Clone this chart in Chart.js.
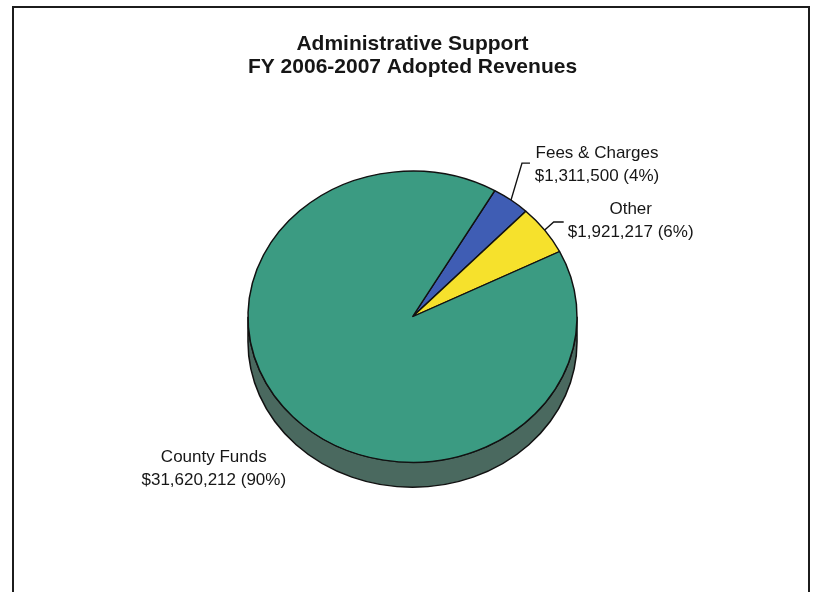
<!DOCTYPE html>
<html>
<head>
<meta charset="utf-8">
<title>Administrative Support - FY 2006-2007 Adopted Revenues</title>
<script src="https://cdn.jsdelivr.net/npm/chart.js@4.4.1/dist/chart.umd.min.js"></script>
<style>
  html, body { margin: 0; padding: 0; background: #fff; }
  #wrap { width: 814px; height: 592px; }
</style>
</head>
<body>
<div id="wrap"><canvas id="revenues" width="814" height="592"></canvas></div>
<script>
// Revenue sources, clockwise from the small wedges near 1 o'clock
const sources = ['Fees & Charges', 'Other', 'County Funds'];
const amounts = [1311500, 1921217, 31620212];
const pctShown = [4, 6, 90];   // percentages as printed in the budget book
const titleLines = ['Administrative Support', 'FY 2006-2007 Adopted Revenues'];

const faceColors = ['#3f5db4', '#f6e12c', '#3b9b82'];
const sideColors = ['#2c3f7a', '#a89a1e', '#4a695f'];

const FONT = '"Liberation Sans", Arial, Helvetica, sans-serif';
const TILT = 146.5 / 165.5;  // vertical squash of the disc
const DEPTH = 25;            // thickness of the disc, px

// label block offsets from each wedge's rim point (mid angle), plus leader elbows
const labelSpots = [
  { dx: 86, dy: -47, leader: [[11, -37], [19, -37]] },
  { dx: 86, dy: -21, leader: [[9, -8], [19, -8]] },
  { dx: -79, dy: 41, leader: null }
];

const money = n => '$' + n.toLocaleString('en-US');

const frame = {
  id: 'frame',
  beforeDraw(chart) {
    const ctx = chart.ctx;
    ctx.save();
    ctx.fillStyle = '#fff';
    ctx.fillRect(0, 0, chart.width, chart.height);
    ctx.strokeStyle = '#1c1c1c';
    ctx.lineWidth = 2;
    ctx.strokeRect(13, 7, 796, 600);
    ctx.restore();
  }
};

// draws the rim of the disc, squashes the face, then puts labels on top
const disc3d = {
  id: 'disc3d',
  beforeDatasetsDraw(chart) {
    const ctx = chart.ctx;
    const arcs = chart.getDatasetMeta(0).data;
    const { x, y, outerRadius: r } = arcs[0];
    const ry = r * TILT;
    ctx.save();
    ctx.lineWidth = 1.5;
    ctx.strokeStyle = '#111';
    arcs.forEach((arc, i) => {
      for (const shift of [-2 * Math.PI, 0, 2 * Math.PI]) {
        const a = Math.max(arc.startAngle + shift, 0);
        const b = Math.min(arc.endAngle + shift, Math.PI);
        if (a >= b) continue;
        ctx.beginPath();
        ctx.ellipse(x, y, r, ry, 0, a, b);
        ctx.ellipse(x, y + DEPTH, r, ry, 0, b, a, true);
        ctx.closePath();
        ctx.fillStyle = sideColors[i];
        ctx.fill();
        ctx.stroke();
      }
    });
    ctx.restore();

    ctx.save();
    ctx.translate(x, y);
    ctx.scale(1, TILT);
    ctx.translate(-x, -y);
  },
  afterDatasetsDraw(chart) {
    const ctx = chart.ctx;
    ctx.restore();

    const arcs = chart.getDatasetMeta(0).data;
    const { x, y, outerRadius: r } = arcs[0];
    const ry = r * TILT;
    ctx.save();
    ctx.font = '17px ' + FONT;
    ctx.fillStyle = '#161616';
    ctx.strokeStyle = '#111';
    ctx.lineWidth = 1.4;
    ctx.textAlign = 'center';
    ctx.textBaseline = 'middle';
    arcs.forEach((arc, i) => {
      const mid = (arc.startAngle + arc.endAngle) / 2;
      const px = x + r * Math.cos(mid);
      const py = y + ry * Math.sin(mid);
      const spot = labelSpots[i];
      if (spot.leader) {
        ctx.beginPath();
        ctx.moveTo(px, py);
        spot.leader.forEach(([lx, ly]) => ctx.lineTo(px + lx, py + ly));
        ctx.stroke();
      }
      const lx = px + spot.dx, ly = py + spot.dy;
      ctx.fillText(sources[i], lx, ly);
      ctx.fillText(money(amounts[i]) + ' (' + pctShown[i] + '%)', lx, ly + 23);
    });
    ctx.restore();
  }
};

new Chart(document.getElementById('revenues'), {
  type: 'pie',
  data: {
    labels: sources,
    datasets: [{
      data: amounts,
      backgroundColor: faceColors,
      borderColor: '#111',
      borderWidth: 1.5
    }]
  },
  options: {
    responsive: false,
    animation: false,
    events: [],
    rotation: 30,
    layout: { padding: { top: 32, left: 247, right: 236, bottom: 110 } },
    plugins: {
      legend: { display: false },
      tooltip: { enabled: false },
      title: {
        display: true,
        text: titleLines,
        color: '#161616',
        font: { family: FONT, size: 21, weight: 'bold', lineHeight: 1.13 },
        padding: { top: 0, bottom: 72 }
      }
    }
  },
  plugins: [frame, disc3d]
});
</script>
</body>
</html>
